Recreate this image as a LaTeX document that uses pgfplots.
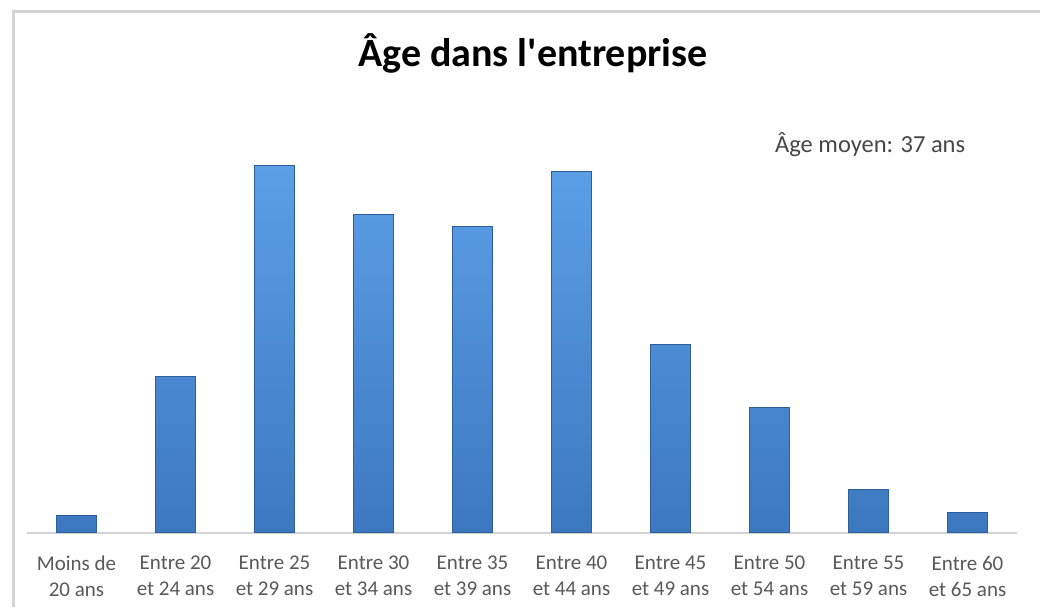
\documentclass[border=0pt]{standalone}
\usepackage{pgfplots}
\pgfplotsset{compat=1.18}
\usepackage{fontspec}
\setmainfont{Carlito}
\newfontfamily\titlefont{Carlito}[Ligatures=TeXOff]
\definecolor{bartop}{HTML}{5C9FE6}
\definecolor{barbot}{HTML}{3C78C0}
\definecolor{baredge}{HTML}{2E5F9C}
\definecolor{labgray}{HTML}{595959}
\definecolor{framegray}{HTML}{D4D4D4}
\begin{document}
\begin{tikzpicture}[x=1pt,y=1pt]
\useasboundingbox (0,0) rectangle (1040,607);
\fill[white] (0,0) rectangle (1040,607);
\draw[framegray, line width=3pt] (13,0) -- (13,595) -- (1045,595);
\begin{axis}[
  at={(27pt,74pt)}, anchor=south west,
  scale only axis, width=990pt, height=381pt,
  xmin=-0.5, xmax=9.5, ymin=0, ymax=20,
  axis y line=none,
  axis x line*=bottom,
  axis line style={framegray, line width=2pt},
  x axis line style={-},
  ybar, bar width=40pt,
  xtick=data,
  major tick length=0pt,
  xticklabels={{Moins de\\20 ans},{Entre 20\\et 24 ans},{Entre 25\\et 29 ans},{Entre 30\\et 34 ans},{Entre 35\\et 39 ans},{Entre 40\\et 44 ans},{Entre 45\\et 49 ans},{Entre 50\\et 54 ans},{Entre 55\\et 59 ans},{Entre 60\\et 65 ans}},
  xticklabel style={align=center, text=labgray, font=\fontsize{21}{26}\selectfont, inner sep=0pt, yshift=-23pt},
  clip=false,
]
\addplot[draw=baredge, line width=1pt, shade, top color=bartop, bottom color=barbot] coordinates {
(0,0.9) (1,8.2) (2,19.3) (3,16.7) (4,16.1) (5,19.0) (6,9.9) (7,6.6) (8,2.3) (9,1.1)
};
\end{axis}
\node[anchor=base, font=\titlefont\fontsize{40}{48}\selectfont\bfseries, text=black] at (533,540) {Âge dans l'entreprise};
\node[anchor=base west, font=\fontsize{24.5}{28}\selectfont, text=black!72, inner sep=0pt] at (775,454) {Âge moyen: 37 ans};
\end{tikzpicture}
\end{document}
